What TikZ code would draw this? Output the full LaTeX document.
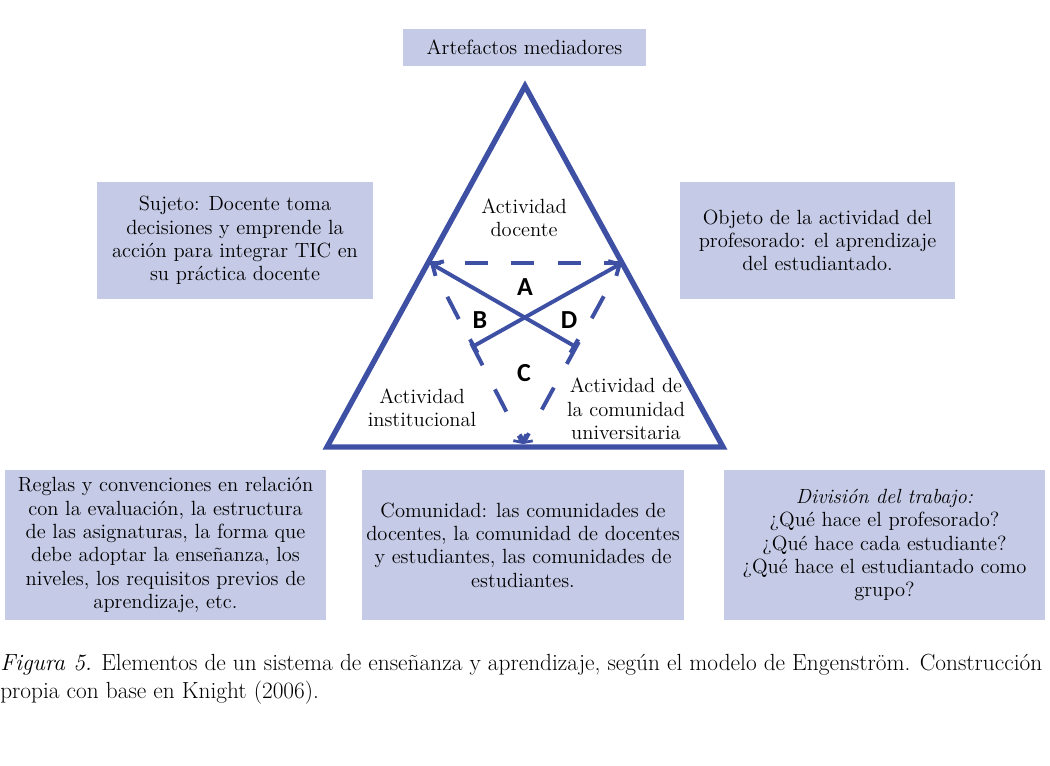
\documentclass[tikz,border=0pt]{standalone}
\usepackage{fontspec}
\usepackage{tikz}
\usetikzlibrary{calc,arrows.meta}
\newfontfamily\letterfont{Carlito}
\definecolor{linecolor}{RGB}{62,80,164}
\definecolor{boxcolor}{RGB}{197,202,230}
\newcommand{\textsz}{\fontsize{14.6}{16.6}\selectfont}
\newcommand{\captionsz}{\fontsize{16.6}{20}\selectfont}
\tikzset{
% Node styles: shaded boxes, plain labels and the four letters
box node/.style={fill=boxcolor,inner sep=0,align=center,font=\textsz},
text node/.style={align=center,inner sep=0,font=\textsz},
letter node/.style={inner sep=0,font=\letterfont\bfseries\fontsize{18.5}{18.5}\selectfont},
% Line styles for the triangle and the inner connectors
frame line/.style={draw=linecolor,line width=3.8pt},
dash line/.style={draw=linecolor,line width=2.8pt},
cross line/.style={draw=linecolor,line width=2.8pt,
  {Bar[width=11pt]}-{Straight Barb[length=6pt,width=12pt]}}
}

\begin{document}
\begin{tikzpicture}[x=0.025cm,y=-0.025cm]
      \useasboundingbox (0,0) rectangle (1050,765);
      % Corners of the big triangle and of the inner one
      \coordinate (top) at (525,86);
      \coordinate (left) at (327,447);
      \coordinate (right) at (723,447);
      \coordinate (in left) at (430,263);
      \coordinate (in right) at (622,263);
      \coordinate (in bottom) at (523,444);
      \coordinate (bar left) at (472,347);
      \coordinate (bar right) at (576,347);
      % The triangle
      \draw[frame line] (top) -- (left) -- (right) -- cycle;
      % Dashed inner triangle
      \draw[dash line,dash pattern=on 16.4pt off 16.7pt,dash phase=8.5pt]
        (in left) -- (in right);
      \draw[dash line,dash pattern=on 17.8pt off 19.2pt,shorten <=27pt,
        -{Straight Barb[length=4pt,width=10pt,line width=2pt]}] (in left) -- (in bottom);
      \draw[dash line,dash pattern=on 17.8pt off 19.2pt,shorten <=27pt,
        -{Straight Barb[length=4pt,width=10pt,line width=2pt]}] (in right) -- (in bottom);
      % Crossing arrows
      \draw[cross line] (bar left) -- (in right);
      \draw[cross line] (bar right) -- (in left);
      % Letters
      \node(A)[letter node] at (525,287) {A};
      \node(B)[letter node] at (480,320) {B};
      \node(D)[letter node] at (569,320) {D};
      \node(C)[letter node] at (524,373) {C};
      % Texts inside the triangle
      \node(docente)[text node] at (524,218) {Actividad\\docente};
      \node(institucional)[text node] at (422,408) {Actividad\\institucional};
      \node(universitaria)[text node] at (626,409) {Actividad de\\la comunidad\\universitaria};
      % Boxes round the triangle
      \node(artefactos)[box node,minimum width=6.075cm,minimum height=0.925cm]
        at (524.5,47.5) {Artefactos mediadores};
      \node(sujeto)[box node,minimum width=6.9cm,minimum height=2.925cm]
        at (235,240.5) {Sujeto: Docente toma\\decisiones y emprende la\\acción para integrar TIC en\\su práctica docente};
      \node(objeto)[box node,minimum width=6.875cm,minimum height=2.925cm]
        at (817.5,240.5) {Objeto de la actividad del\\profesorado: el aprendizaje\\del estudiantado.};
      \node(reglas)[box node,minimum width=8.025cm,minimum height=3.75cm]
        at (165.5,545) {Reglas y convenciones en relación\\con la evaluación, la estructura\\de las asignaturas, la forma que\\debe adoptar la enseñanza, los\\niveles, los requisitos previos de\\aprendizaje, etc.};
      \node(comunidad)[box node,minimum width=8.05cm,minimum height=3.75cm]
        at (523,545) {Comunidad: las comunidades de\\docentes, la comunidad de docentes\\y estudiantes, las comunidades de\\estudiantes.};
      \node(division)[box node,minimum width=8.025cm,minimum height=3.75cm]
        at (884.5,545) {\textit{División del trabajo:}\\¿Qué hace el profesorado?\\¿Qué hace cada estudiante?\\¿Qué hace el estudiantado como\\grupo?};
      % Caption
      \node(caption)[anchor=north west,inner sep=0,align=left,font=\captionsz]
        at (0,654) {\textit{Figura 5.} Elementos de un sistema de enseñanza y aprendizaje, según el modelo de Engenström. Construcción\\propia con base en Knight (2006).};
\end{tikzpicture}
\end{document}
